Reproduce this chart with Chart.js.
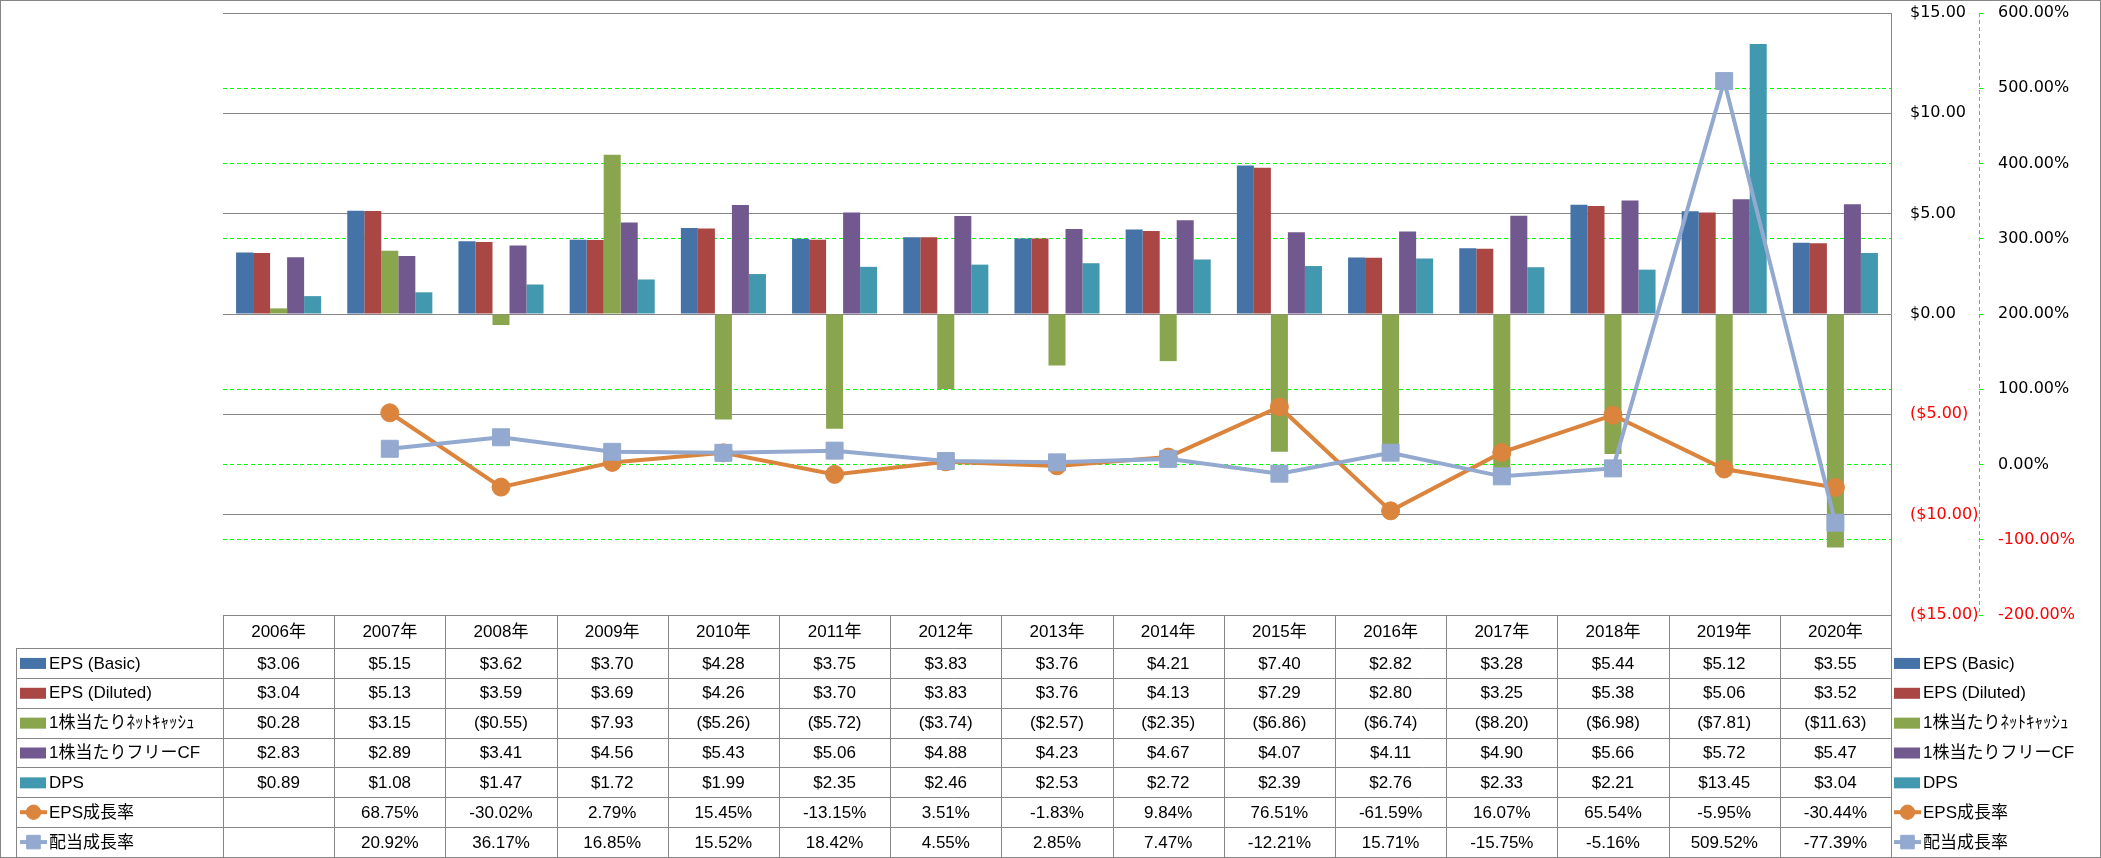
<!DOCTYPE html>
<html>
<head>
<meta charset="utf-8">
<script src="https://cdn.jsdelivr.net/npm/chart.js@4.4.1/dist/chart.umd.min.js"></script>
<style>
  html, body { margin: 0; padding: 0; background: #fff; }
  #wrap { width: 2101px; height: 858px; }
</style>
</head>
<body>
<div id="wrap"><canvas id="eps" width="2101" height="858"></canvas></div>
<script>
// -- data
const years = ['2006年', '2007年', '2008年', '2009年', '2010年', '2011年', '2012年', '2013年',
  '2014年', '2015年', '2016年', '2017年', '2018年', '2019年', '2020年'];
const epsBasic = [3.06, 5.15, 3.62, 3.70, 4.28, 3.75, 3.83, 3.76, 4.21, 7.40, 2.82, 3.28, 5.44, 5.12, 3.55];
const epsDiluted = [3.04, 5.13, 3.59, 3.69, 4.26, 3.70, 3.83, 3.76, 4.13, 7.29, 2.80, 3.25, 5.38, 5.06, 3.52];
const netCash = [0.28, 3.15, -0.55, 7.93, -5.26, -5.72, -3.74, -2.57, -2.35, -6.86, -6.74, -8.20, -6.98, -7.81, -11.63];
const freeCF = [2.83, 2.89, 3.41, 4.56, 5.43, 5.06, 4.88, 4.23, 4.67, 4.07, 4.11, 4.90, 5.66, 5.72, 5.47];
const dps = [0.89, 1.08, 1.47, 1.72, 1.99, 2.35, 2.46, 2.53, 2.72, 2.39, 2.76, 2.33, 2.21, 13.45, 3.04];
const epsGrowth = [null, 68.75, -30.02, 2.79, 15.45, -13.15, 3.51, -1.83, 9.84, 76.51, -61.59, 16.07, 65.54, -5.95, -30.44];
const dpsGrowth = [null, 20.92, 36.17, 16.85, 15.52, 18.42, 4.55, 2.85, 7.47, -12.21, 15.71, -15.75, -5.16, 509.52, -77.39];

const fmtMoney = (v) => (v == null ? '' : v < 0 ? `($${(-v).toFixed(2)})` : `$${v.toFixed(2)}`);
const fmtPct = (v) => (v == null ? '' : `${v.toFixed(2)}%`);

const series = [
  { label: 'EPS (Basic)', data: epsBasic, color: '#4572A7', fmt: fmtMoney },
  { label: 'EPS (Diluted)', data: epsDiluted, color: '#AA4643', fmt: fmtMoney },
  { label: '1株当たりﾈｯﾄｷｬｯｼｭ', data: netCash, color: '#89A54E', fmt: fmtMoney },
  { label: '1株当たりフリーCF', data: freeCF, color: '#71588F', fmt: fmtMoney },
  { label: 'DPS', data: dps, color: '#4198AF', fmt: fmtMoney },
  { label: 'EPS成長率', data: epsGrowth, color: '#DB843D', fmt: fmtPct, line: true, point: 'circle', r: 9, order: 1 },
  { label: '配当成長率', data: dpsGrowth, color: '#93A9CF', fmt: fmtPct, line: true, point: 'rect', r: 12, order: 0 },
];
// --

const TXT_FONT = '17px "Liberation Sans", "Noto Sans CJK JP", sans-serif';
const GRID_GREY = '#868686';
const GREEN = '#00FF00';

const datasets = series.map((s) =>
  s.line
    ? {
        type: 'line',
        label: s.label,
        data: s.data,
        yAxisID: 'y1',
        borderColor: s.color,
        backgroundColor: s.color,
        borderWidth: 4,
        pointStyle: s.point,
        pointRadius: s.r,
        pointBorderWidth: 1,
        tension: 0,
        order: s.order,
      }
    : {
        type: 'bar',
        label: s.label,
        data: s.data,
        yAxisID: 'y',
        backgroundColor: s.color,
        borderWidth: 0,
        categoryPercentage: 0.765,
        barPercentage: 1,
        order: 2,
      }
);

// legend key (bar box or line+marker)
function drawKey(ctx, s, x, cy) {
  ctx.save();
  if (s.line) {
    ctx.strokeStyle = s.color;
    ctx.lineWidth = 4;
    ctx.beginPath();
    ctx.moveTo(x, cy);
    ctx.lineTo(x + 27, cy);
    ctx.stroke();
    ctx.fillStyle = s.color;
    ctx.lineWidth = 1;
    Chart.helpers.drawPoint(ctx, { pointStyle: s.point, radius: s.r * 0.8, rotation: 0, borderWidth: 1 }, x + 13.5, cy);
  } else {
    ctx.fillStyle = s.color;
    ctx.fillRect(x, cy - 5, 26, 11);
  }
  ctx.restore();
}

const tablePlugin = {
  id: 'dataTable',
  afterDraw(chart) {
    const { ctx, chartArea: area, scales } = chart;
    const x = scales.x;
    const y1 = scales.y1;
    const half = (x.getPixelForValue(1) - x.getPixelForValue(0)) / 2;
    const headTop = area.bottom;
    const headH = 33;
    const tableBottom = 857;
    const rowH = (tableBottom - headTop - headH) / series.length;
    const firstLeft = 16.5;
    const px = (v) => Math.round(v) + 0.5;

    ctx.save();

    // green dashed % axis line
    ctx.strokeStyle = GREEN;
    ctx.lineWidth = 1;
    ctx.setLineDash([4, 3]);
    ctx.beginPath();
    ctx.moveTo(px(y1.left), area.top);
    ctx.lineTo(px(y1.left), area.bottom);
    ctx.stroke();
    ctx.setLineDash([]);

    // table grid
    ctx.strokeStyle = GRID_GREY;
    ctx.beginPath();
    ctx.moveTo(area.left, px(headTop));
    ctx.lineTo(area.right, px(headTop));
    for (let r = 0; r <= series.length; r++) {
      const yy = px(headTop + headH + r * rowH);
      ctx.moveTo(firstLeft, yy);
      ctx.lineTo(area.right, yy);
    }
    for (let i = 0; i <= years.length; i++) {
      const xx = px(i < years.length ? x.getPixelForValue(i) - half : x.getPixelForValue(i - 1) + half);
      ctx.moveTo(xx, headTop);
      ctx.lineTo(xx, tableBottom);
    }
    ctx.moveTo(firstLeft, headTop + headH);
    ctx.lineTo(firstLeft, tableBottom);
    ctx.stroke();

    // outer border
    ctx.strokeRect(0.5, 0.5, 2100, 857);

    // texts
    ctx.font = TXT_FONT;
    ctx.fillStyle = '#000';
    ctx.textBaseline = 'middle';
    ctx.textAlign = 'center';
    years.forEach((yr, i) => ctx.fillText(yr, x.getPixelForValue(i), headTop + headH / 2 + 1));
    series.forEach((s, r) => {
      const cy = headTop + headH + (r + 0.5) * rowH;
      s.data.forEach((v, i) => {
        ctx.fillText(s.fmt(v), x.getPixelForValue(i), cy + 1);
      });
    });

    // legend keys: inside table and at right
    ctx.textAlign = 'left';
    series.forEach((s, r) => {
      const cy = headTop + headH + (r + 0.5) * rowH;
      drawKey(ctx, s, 20, cy);
      ctx.fillStyle = '#000';
      ctx.fillText(s.label, 49, cy + 1);
      drawKey(ctx, s, area.right + 3, cy);
      ctx.fillStyle = '#000';
      ctx.fillText(s.label, area.right + 32, cy + 1);
    });

    ctx.restore();
  },
};

new Chart(document.getElementById('eps'), {
  data: { labels: years, datasets },
  options: {
    responsive: false,
    animation: false,
    devicePixelRatio: 1,
    layout: { padding: { left: 223, top: 13, right: 0, bottom: 243 } },
    plugins: { legend: { display: false }, tooltip: { enabled: false } },
    scales: {
      x: { display: false, offset: true },
      y: {
        position: 'right',
        min: -15,
        max: 15,
        afterFit: (s) => { s.width = 88; s.paddingTop = 0; s.paddingBottom = 0; },
        ticks: {
          stepSize: 5,
          padding: 19,
          font: { family: 'DejaVu Sans', size: 16 },
          color: (c) => (c.tick.value < 0 ? '#FF0000' : '#000'),
          callback: (v) => fmtMoney(v),
        },
        grid: { color: GRID_GREY, lineWidth: 1, drawTicks: false },
        border: { display: true, color: GRID_GREY },
      },
      y1: {
        position: 'right',
        min: -200,
        max: 600,
        afterFit: (s) => { s.width = 122; s.paddingTop = 0; s.paddingBottom = 0; },
        ticks: {
          stepSize: 100,
          padding: 15,
          font: { family: 'DejaVu Sans', size: 16 },
          color: (c) => (c.tick.value < 0 ? '#FF0000' : '#000'),
          callback: (v) => fmtPct(v),
        },
        grid: {
          // hide where the % grid falls on a $ grid line
          color: (c) => ([-200, 200, 600].includes(c.tick.value) ? 'rgba(0,0,0,0)' : GREEN),
          tickColor: GREEN,
          lineWidth: 1,
          tickLength: 4,
          drawTicks: true,
        },
        border: { display: false, dash: [4, 3] },
      },
    },
  },
  plugins: [tablePlugin],
});
</script>
</body>
</html>
